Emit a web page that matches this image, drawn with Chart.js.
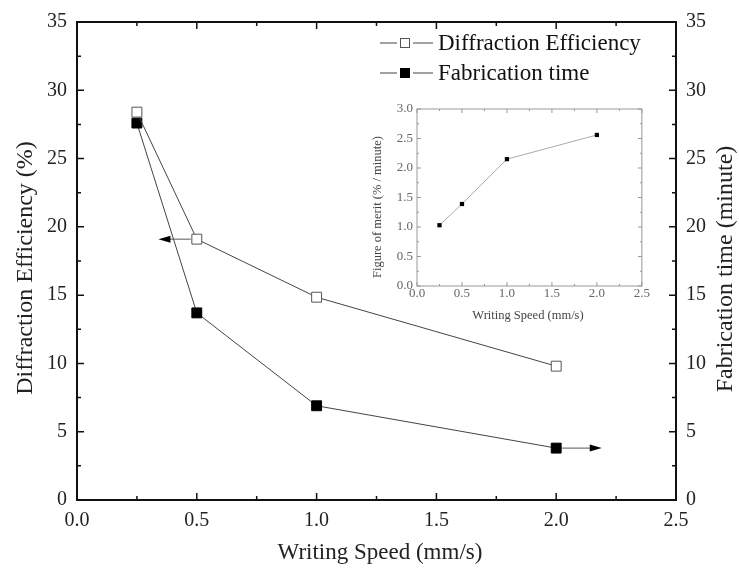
<!DOCTYPE html>
<html>
<head>
<meta charset="utf-8">
<script src="https://cdn.jsdelivr.net/npm/chart.js@4/dist/chart.umd.min.js"></script>
<style>
  html, body { margin: 0; padding: 0; background: #fff; }
  #wrap { position: relative; width: 739px; height: 572px; }
  #main { position: absolute; left: 0; top: 0; }
  #inset { position: absolute; left: 355px; top: 95px; }
</style>
</head>
<body>
<div id="wrap">
  <canvas id="main" width="739" height="572"></canvas>
  <canvas id="inset" width="295" height="235"></canvas>
</div>
<script>
// writing speed (mm/s)
const speeds = [0.25, 0.5, 1.0, 2.0];
// main series
const efficiency = [28.4, 19.1, 14.85, 9.8];   // %
const fabTime = [27.6, 13.7, 6.9, 3.8];        // minute
// inset series
const merit = [1.03, 1.39, 2.15, 2.56];        // % / minute

// tick positions
const xMajor = [0, 0.5, 1.0, 1.5, 2.0, 2.5];
const xMinor = [0.25, 0.75, 1.25, 1.75, 2.25];
const yMajor = [0, 5, 10, 15, 20, 25, 30, 35];
const yMinor = [2.5, 7.5, 12.5, 17.5, 22.5, 27.5, 32.5];
const insetYMajor = [0, 0.5, 1.0, 1.5, 2.0, 2.5, 3.0];
const insetYMinor = [0.25, 0.75, 1.25, 1.75, 2.25, 2.75];

// arrows telling which axis a series belongs to: [x, y, arrow tip x]
const deArrow = [0.5, 19.1, 0.34];
const ftArrow = [2.0, 3.8, 2.19];

const serif = "'Liberation Serif', 'Times New Roman', serif";

function pts(xs, ys) {
  return xs.map((x, i) => ({ x: x, y: ys[i] }));
}

function vText(ctx, text, x, y, font, color) {
  ctx.save();
  ctx.translate(x, y);
  ctx.rotate(-Math.PI / 2);
  ctx.font = font;
  ctx.fillStyle = color;
  ctx.textAlign = 'center';
  ctx.textBaseline = 'middle';
  ctx.fillText(text, 0, 0);
  ctx.restore();
}

// frame + inward ticks
function boxTicks(opts) {
  return {
    id: 'boxTicks',
    afterDatasetsDraw(chart) {
      const { ctx, chartArea: a } = chart;
      const sx = chart.scales.x, sy = chart.scales.y;
      ctx.save();
      ctx.strokeStyle = opts.color;
      ctx.lineWidth = opts.tickWidth;
      ctx.beginPath();
      const xt = (list, len) => list.forEach(v => {
        const p = sx.getPixelForValue(v);
        ctx.moveTo(p, a.bottom); ctx.lineTo(p, a.bottom - len);
        ctx.moveTo(p, a.top); ctx.lineTo(p, a.top + len);
      });
      const yt = (list, len) => list.forEach(v => {
        const p = sy.getPixelForValue(v);
        ctx.moveTo(a.left, p); ctx.lineTo(a.left + len, p);
        ctx.moveTo(a.right, p); ctx.lineTo(a.right - len, p);
      });
      xt(opts.xMajor, opts.major); xt(opts.xMinor, opts.minor);
      yt(opts.yMajor, opts.major); yt(opts.yMinor, opts.minor);
      ctx.stroke();
      ctx.lineWidth = opts.frameWidth;
      ctx.strokeRect(a.left, a.top, a.right - a.left, a.bottom - a.top);
      ctx.restore();
    }
  };
}

// axis titles, the two arrows and the legend
const extras = {
  id: 'extras',
  afterDatasetsDraw(chart) {
    const { ctx } = chart;
    const sx = chart.scales.x, sy = chart.scales.y, sy1 = chart.scales.y1;
    ctx.save();
    const titleFont = '24px ' + serif;
    vText(ctx, 'Diffraction Efficiency (%)', 26, 268, titleFont, '#222');
    vText(ctx, 'Fabrication time (minute)', 726, 269, titleFont, '#222');
    ctx.font = '23px ' + serif;
    ctx.fillStyle = '#222';
    ctx.textAlign = 'center';
    ctx.textBaseline = 'middle';
    ctx.fillText('Writing Speed (mm/s)', 380, 553);

    function arrow(x0, y, x1) {
      const dir = x1 > x0 ? 1 : -1;
      ctx.strokeStyle = '#555';
      ctx.lineWidth = 1;
      ctx.beginPath();
      ctx.moveTo(x0 + dir * 6, y);
      ctx.lineTo(x1 - dir * 10, y);
      ctx.stroke();
      ctx.fillStyle = '#000';
      ctx.beginPath();
      ctx.moveTo(x1, y);
      ctx.lineTo(x1 - dir * 12, y - 3.5);
      ctx.lineTo(x1 - dir * 12, y + 3.5);
      ctx.closePath();
      ctx.fill();
    }
    arrow(sx.getPixelForValue(deArrow[0]), sy.getPixelForValue(deArrow[1]), sx.getPixelForValue(deArrow[2]));
    arrow(sx.getPixelForValue(ftArrow[0]), sy1.getPixelForValue(ftArrow[1]), sx.getPixelForValue(ftArrow[2]));

    // legend
    const lx = 380, rows = [43, 73];
    chart.data.datasets.forEach((ds, i) => {
      const y = rows[i];
      ctx.strokeStyle = '#444';
      ctx.lineWidth = 1;
      ctx.beginPath();
      ctx.moveTo(lx, y); ctx.lineTo(lx + 17, y);
      ctx.moveTo(lx + 33, y); ctx.lineTo(lx + 53, y);
      ctx.stroke();
      ctx.fillStyle = ds.pointBackgroundColor;
      ctx.strokeStyle = ds.pointBorderColor;
      ctx.fillRect(lx + 20, y - 5, 10, 10);
      ctx.strokeRect(lx + 20.5, y - 4.5, 9, 9);
      ctx.fillStyle = '#111';
      ctx.font = '23px ' + serif;
      ctx.textAlign = 'left';
      ctx.textBaseline = 'middle';
      ctx.fillText(ds.label, lx + 58, y + 1);
    });
    ctx.restore();
  }
};

const noGrid = { display: false, drawTicks: false };

const mainChart = new Chart(document.getElementById('main'), {
  type: 'line',
  data: {
    datasets: [
      {
        label: 'Diffraction Efficiency',
        data: pts(speeds, efficiency),
        yAxisID: 'y',
        borderColor: '#444',
        borderWidth: 1,
        pointStyle: 'rect',
        pointRadius: 7,
        pointBackgroundColor: '#fff',
        pointBorderColor: '#555',
        pointBorderWidth: 1
      },
      {
        label: 'Fabrication time',
        data: pts(speeds, fabTime),
        yAxisID: 'y1',
        borderColor: '#444',
        borderWidth: 1,
        pointStyle: 'rect',
        pointRadius: 7,
        pointBackgroundColor: '#000',
        pointBorderColor: '#000',
        pointBorderWidth: 1
      }
    ]
  },
  options: {
    responsive: false,
    devicePixelRatio: 1,
    animation: false,
    layout: { padding: { top: 17, left: 0, right: 0, bottom: 0 } },
    plugins: { legend: { display: false }, tooltip: { enabled: false } },
    scales: {
      x: {
        type: 'linear', min: 0, max: 2.5,
        afterFit: s => { s.height = 72; },
        grid: noGrid, border: { display: false },
        ticks: { stepSize: 0.5, padding: 9, color: '#222', font: { family: serif, size: 20 },
                 callback: v => v.toFixed(1) }
      },
      y: {
        position: 'left', min: 0, max: 35,
        afterFit: s => { s.width = 77; },
        grid: noGrid, border: { display: false },
        ticks: { stepSize: 5, padding: 10, color: '#222', font: { family: serif, size: 20 } }
      },
      y1: {
        position: 'right', min: 0, max: 35,
        afterFit: s => { s.width = 63; },
        grid: noGrid, border: { display: false },
        ticks: { stepSize: 5, padding: 10, color: '#222', font: { family: serif, size: 20 } }
      }
    }
  },
  plugins: [boxTicks({ color: '#111', tickWidth: 1.5, frameWidth: 2, major: 7, minor: 4,
                       xMajor: xMajor, xMinor: xMinor, yMajor: yMajor, yMinor: yMinor }), extras]
});

const insetTitles = {
  id: 'insetTitles',
  afterDraw(chart) {
    const { ctx } = chart;
    vText(ctx, 'Figure of merit (% / minute)', 23, 112, '12.5px ' + serif, '#444');
    ctx.save();
    ctx.font = '12.5px ' + serif;
    ctx.fillStyle = '#444';
    ctx.textAlign = 'center';
    ctx.textBaseline = 'middle';
    ctx.fillText('Writing Speed (mm/s)', 173, 221);
    ctx.restore();
  }
};

const insetChart = new Chart(document.getElementById('inset'), {
  type: 'line',
  data: {
    datasets: [{
      label: 'Figure of merit',
      data: pts(speeds, merit),
      borderColor: '#aaa',
      borderWidth: 1,
      pointStyle: 'rect',
      pointRadius: 3,
      pointBackgroundColor: '#000',
      pointBorderColor: '#000',
      pointBorderWidth: 0
    }]
  },
  options: {
    responsive: false,
    devicePixelRatio: 1,
    animation: false,
    layout: { padding: { top: 14, right: 7, left: 0, bottom: 0 } },
    plugins: { legend: { display: false }, tooltip: { enabled: false } },
    scales: {
      x: {
        type: 'linear', min: 0, max: 2.5,
        afterFit: s => { s.height = 44; },
        grid: noGrid, border: { display: false },
        ticks: { stepSize: 0.5, padding: 0, color: '#666', font: { family: serif, size: 13 },
                 callback: v => v.toFixed(1) }
      },
      y: {
        min: 0, max: 3,
        afterFit: s => { s.width = 62; },
        grid: noGrid, border: { display: false },
        ticks: { stepSize: 0.5, padding: 4, color: '#666', font: { family: serif, size: 13 },
                 callback: v => v.toFixed(1) }
      }
    }
  },
  plugins: [boxTicks({ color: '#999', tickWidth: 1, frameWidth: 1, major: 4, minor: 2,
                       xMajor: xMajor, xMinor: xMinor, yMajor: insetYMajor, yMinor: insetYMinor }),
            insetTitles]
});
</script>
</body>
</html>
